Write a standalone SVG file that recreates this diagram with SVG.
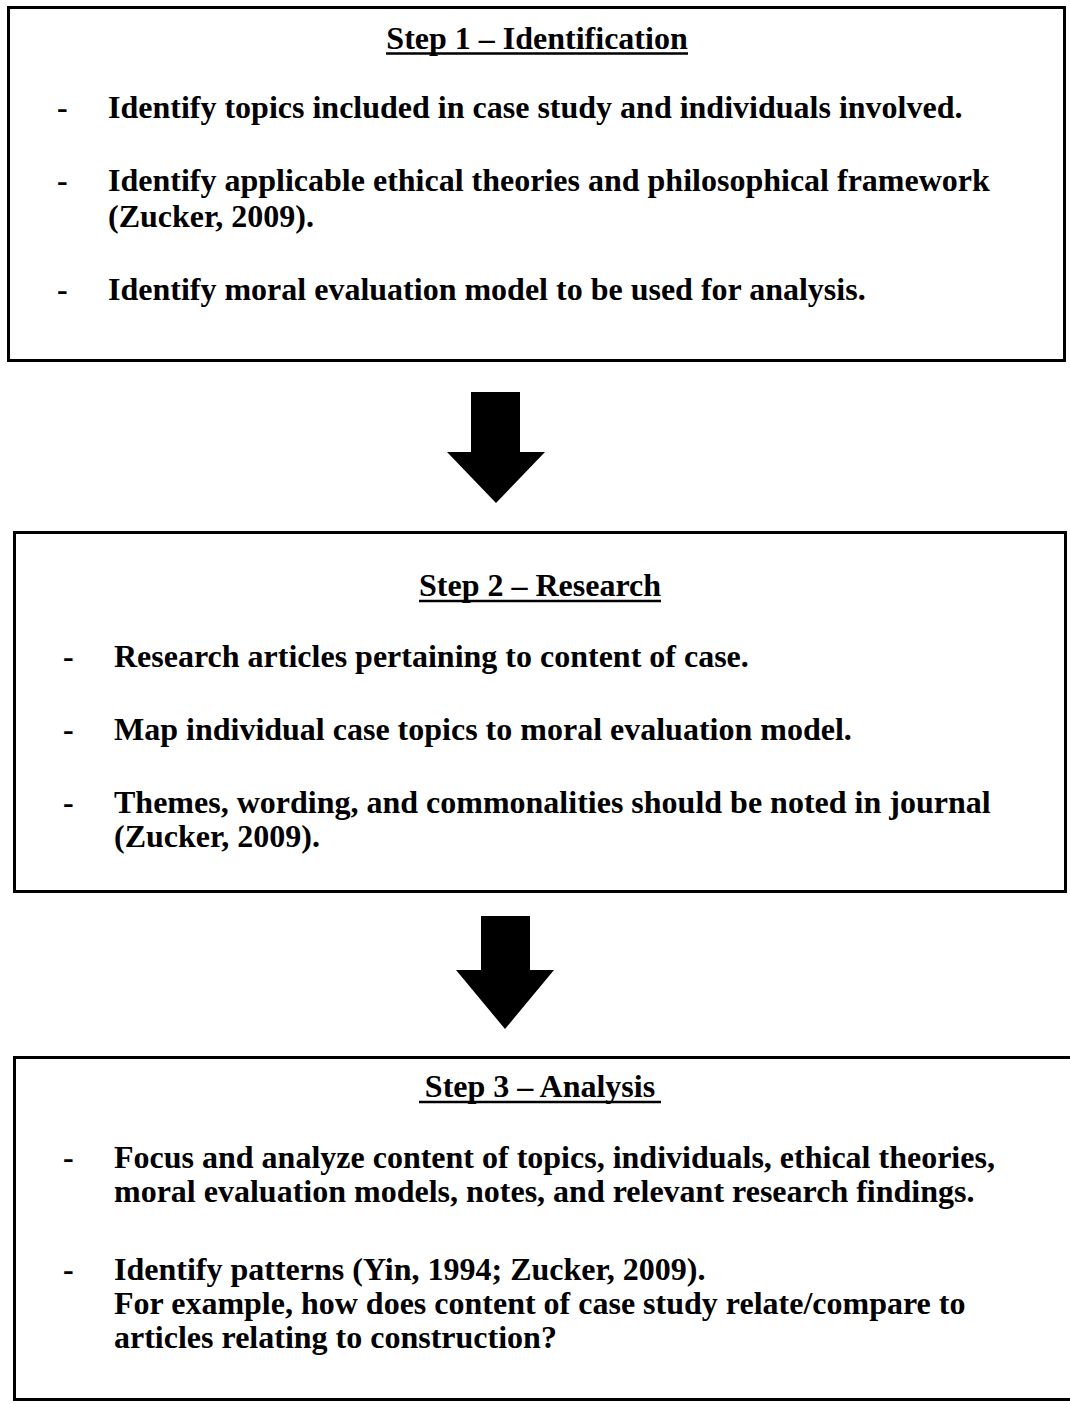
<svg xmlns="http://www.w3.org/2000/svg" width="1070" height="1404" viewBox="0 0 1070 1404">
  <style>
    .box { fill: #ffffff; stroke: #000000; stroke-width: 3; }
    .t { font-family: "Liberation Serif", "Times New Roman", serif; font-weight: bold; font-size: 32px; fill: #000000; }
    .title { text-anchor: middle; }
    .ul { stroke: #000000; stroke-width: 2.5; }
    .arrow { fill: #000000; }
  </style>
  <rect x="0" y="0" width="1070" height="1404" fill="#ffffff"/>

  <!-- Step 1 -->
  <g id="step1">
    <rect class="box" x="8.5" y="7.5" width="1056" height="353"/>
    <text class="t title" x="537" y="49">Step 1 – Identification</text>
    <line class="ul" x1="386" y1="53.5" x2="688" y2="53.5"/>
    <text class="t" x="57" y="118">-</text>
    <text class="t" x="108" y="118">Identify topics included in case study and individuals involved.</text>
    <text class="t" x="57" y="191">-</text>
    <text class="t" x="108" y="191">Identify applicable ethical theories and philosophical framework</text>
    <text class="t" x="108" y="227">(Zucker, 2009).</text>
    <text class="t" x="57" y="300">-</text>
    <text class="t" x="108" y="300">Identify moral evaluation model to be used for analysis.</text>
  </g>

  <!-- Step 2 -->
  <g id="step2">
    <rect class="box" x="14.5" y="532.5" width="1051" height="359"/>
    <text class="t title" x="540" y="596">Step 2 – Research</text>
    <line class="ul" x1="419" y1="601" x2="661" y2="601"/>
    <text class="t" x="63" y="667">-</text>
    <text class="t" x="114" y="667">Research articles pertaining to content of case.</text>
    <text class="t" x="63" y="740">-</text>
    <text class="t" x="114" y="740">Map individual case topics to moral evaluation model.</text>
    <text class="t" x="63" y="813">-</text>
    <text class="t" x="114" y="813">Themes, wording, and commonalities should be noted in journal</text>
    <text class="t" x="114" y="847">(Zucker, 2009).</text>
  </g>

  <!-- Step 3 -->
  <g id="step3">
    <rect class="box" x="14.5" y="1057.5" width="1070" height="342"/>
    <text class="t title" x="540" y="1097">Step 3 – Analysis</text>
    <line class="ul" x1="419" y1="1102" x2="661" y2="1102"/>
    <text class="t" x="63" y="1168">-</text>
    <text class="t" x="114" y="1168">Focus and analyze content of topics, individuals, ethical theories,</text>
    <text class="t" x="114" y="1202">moral evaluation models, notes, and relevant research findings.</text>
    <text class="t" x="63" y="1280">-</text>
    <text class="t" x="114" y="1280">Identify patterns (Yin, 1994; Zucker, 2009).</text>
    <text class="t" x="114" y="1314">For example, how does content of case study relate/compare to</text>
    <text class="t" x="114" y="1348">articles relating to construction?</text>
  </g>

  <!-- block arrows between steps -->
  <g id="connectors">
    <polygon class="arrow" points="471,392 520,392 520,452 545,452 496,503 447,452 471,452"/>
    <polygon class="arrow" points="481,916 530,916 530,970 554,970 505,1029 456,970 481,970"/>
  </g>
</svg>
